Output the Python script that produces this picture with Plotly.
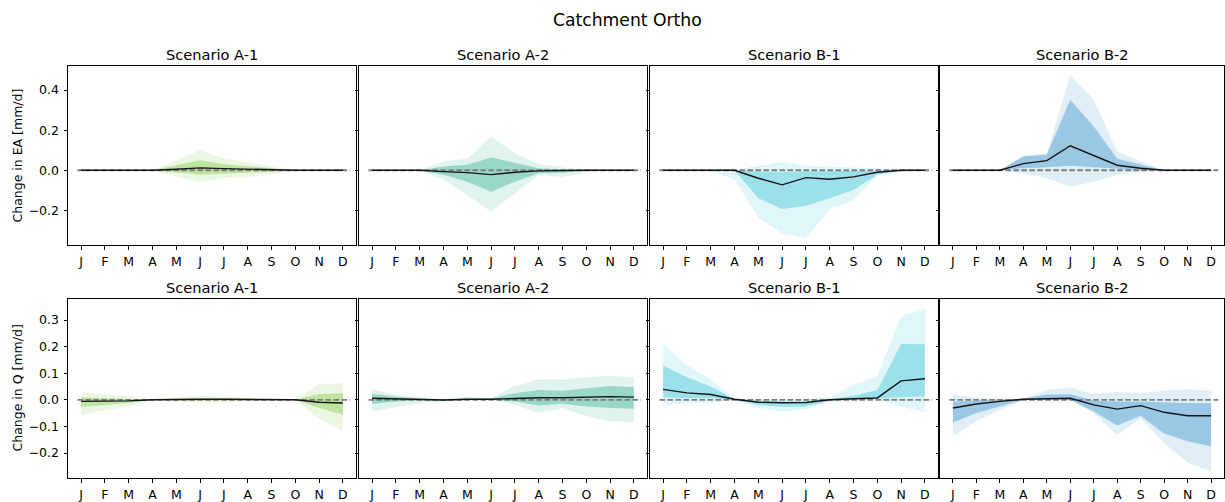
import plotly.graph_objects as go

months = ["J", "F", "M", "A", "M", "J", "J", "A", "S", "O", "N", "D"]
scenarios = ["Scenario A-1", "Scenario A-2", "Scenario B-1", "Scenario B-2"]
base_colors = ["rgba(125,200,65,{a})", "rgba(47,175,144,{a})", "rgba(52,196,212,{a})", "rgba(49,140,200,{a})"]

# ---- Change in EA [mm/d] ----
ea_a1_med = [0, 0, 0, 0, 0.005, 0.012, 0.008, 0.005, 0.003, 0, 0, 0]
ea_a1_in_hi = [0, 0, 0, 0, 0.025, 0.05, 0.03, 0.02, 0.01, 0, 0, 0]
ea_a1_in_lo = [0, 0, 0, 0, -0.01, -0.023, -0.015, -0.012, -0.007, 0, 0, 0]
ea_a1_out_hi = [0, 0, 0, 0, 0.05, 0.10, 0.06, 0.04, 0.02, 0, 0, 0]
ea_a1_out_lo = [0, 0, 0, 0, -0.03, -0.06, -0.04, -0.035, -0.02, 0, 0, 0]

ea_a2_med = [0, 0, 0, -0.007, -0.012, -0.022, -0.01, -0.003, 0, 0, 0, 0]
ea_a2_in_hi = [0, 0, 0, 0.018, 0.027, 0.063, 0.035, 0.01, 0.005, 0, 0, 0]
ea_a2_in_lo = [0, 0, 0, -0.023, -0.057, -0.107, -0.057, -0.015, -0.012, 0, 0, 0]
ea_a2_out_hi = [0, 0, 0, 0.043, 0.057, 0.168, 0.085, 0.03, 0.015, 0, 0, 0]
ea_a2_out_lo = [0, 0, 0, -0.048, -0.123, -0.207, -0.115, -0.023, -0.035, -0.007, 0, 0]

ea_b1_med = [0, 0, 0, 0, -0.04, -0.073, -0.037, -0.045, -0.033, -0.01, 0, 0]
ea_b1_in_hi = [0, 0, 0, 0, -0.005, -0.01, -0.005, -0.005, -0.005, -0.003, 0, 0]
ea_b1_in_lo = [0, 0, 0, 0, -0.14, -0.193, -0.177, -0.14, -0.098, -0.023, 0, 0]
ea_b1_out_hi = [0, 0, 0, 0, 0.022, 0.043, 0.022, 0.018, 0.015, 0.01, 0, 0]
ea_b1_out_lo = [0, 0, 0, -0.048, -0.235, -0.315, -0.34, -0.195, -0.148, -0.028, -0.007, 0]

ea_b2_med = [0, 0, 0, 0.033, 0.048, 0.122, 0.073, 0.025, 0.01, 0, 0, 0]
ea_b2_in_hi = [0, 0, 0, 0.068, 0.077, 0.352, 0.218, 0.057, 0.027, 0, 0, 0]
ea_b2_in_lo = [0, 0, 0, 0.01, 0.015, 0.022, 0.015, 0.007, 0, 0, 0, 0]
ea_b2_out_hi = [0, 0, 0, 0.073, 0.085, 0.473, 0.352, 0.093, 0.043, 0, 0, 0]
ea_b2_out_lo = [0, 0, 0, -0.015, -0.04, -0.082, -0.057, -0.023, -0.007, 0, 0, 0]

# ---- Change in Q [mm/d] ----
q_a1_med = [-0.006, -0.005, -0.004, 0, 0.002, 0.002, 0.002, 0.002, 0.001, 0, -0.009, -0.012]
q_a1_in_hi = [0.01, 0.006, 0.004, 0, 0.004, 0.006, 0.006, 0.004, 0.003, 0, 0.022, 0.025]
q_a1_in_lo = [-0.027, -0.019, -0.012, 0, -0.002, -0.002, -0.002, -0.002, -0.001, 0, -0.031, -0.056]
q_a1_out_hi = [0.029, 0.021, 0.012, 0, 0.01, 0.015, 0.012, 0.01, 0.005, 0, 0.059, 0.062]
q_a1_out_lo = [-0.056, -0.04, -0.025, 0, -0.006, -0.01, -0.008, -0.005, -0.003, 0, -0.069, -0.119]

q_a2_med = [0.006, 0.004, 0.002, -0.001, 0.002, 0.002, 0.005, 0.008, 0.008, 0.01, 0.012, 0.01]
q_a2_in_hi = [0.022, 0.012, 0.005, 0.001, 0.005, 0.005, 0.025, 0.037, 0.034, 0.044, 0.052, 0.047]
q_a2_in_lo = [-0.016, -0.006, -0.002, -0.004, 0, 0, -0.006, -0.021, -0.015, -0.025, -0.031, -0.034]
q_a2_out_hi = [0.04, 0.019, 0.01, 0.004, 0.011, 0.006, 0.052, 0.077, 0.077, 0.085, 0.09, 0.084]
q_a2_out_lo = [-0.044, -0.027, -0.012, -0.006, -0.002, 0, -0.019, -0.05, -0.031, -0.062, -0.081, -0.085]

q_b1_med = [0.039, 0.026, 0.02, 0.002, -0.009, -0.011, -0.01, 0, 0.004, 0.007, 0.071, 0.079]
q_b1_in_hi = [0.129, 0.085, 0.05, 0.002, -0.004, -0.006, -0.004, 0.002, 0.015, 0.037, 0.21, 0.209]
q_b1_in_lo = [0.01, 0.006, 0.006, 0, -0.019, -0.027, -0.025, -0.004, 0.002, 0.005, 0.01, 0.012]
q_b1_out_hi = [0.21, 0.131, 0.077, 0.005, 0, 0, 0.001, 0.01, 0.056, 0.09, 0.315, 0.344]
q_b1_out_lo = [-0.022, -0.012, -0.01, -0.002, -0.031, -0.044, -0.035, -0.006, -0.002, 0, -0.025, -0.047]

q_b2_med = [-0.031, -0.016, -0.006, 0.002, 0.004, 0.006, -0.019, -0.035, -0.022, -0.047, -0.06, -0.06]
q_b2_in_hi = [-0.006, -0.004, 0, 0.005, 0.019, 0.021, -0.004, -0.006, -0.006, -0.009, -0.012, -0.012]
q_b2_in_lo = [-0.085, -0.05, -0.025, 0, 0.002, 0, -0.044, -0.097, -0.06, -0.127, -0.156, -0.175]
q_b2_out_hi = [0.019, 0.009, 0.002, 0.005, 0.037, 0.046, 0.021, 0.029, 0.025, 0.035, 0.04, 0.035]
q_b2_out_lo = [-0.135, -0.081, -0.037, -0.002, 0, -0.002, -0.05, -0.131, -0.069, -0.162, -0.237, -0.269]

ea_data = [
    (ea_a1_med, ea_a1_in_lo, ea_a1_in_hi, ea_a1_out_lo, ea_a1_out_hi),
    (ea_a2_med, ea_a2_in_lo, ea_a2_in_hi, ea_a2_out_lo, ea_a2_out_hi),
    (ea_b1_med, ea_b1_in_lo, ea_b1_in_hi, ea_b1_out_lo, ea_b1_out_hi),
    (ea_b2_med, ea_b2_in_lo, ea_b2_in_hi, ea_b2_out_lo, ea_b2_out_hi),
]
q_data = [
    (q_a1_med, q_a1_in_lo, q_a1_in_hi, q_a1_out_lo, q_a1_out_hi),
    (q_a2_med, q_a2_in_lo, q_a2_in_hi, q_a2_out_lo, q_a2_out_hi),
    (q_b1_med, q_b1_in_lo, q_b1_in_hi, q_b1_out_lo, q_b1_out_hi),
    (q_b2_med, q_b2_in_lo, q_b2_in_hi, q_b2_out_lo, q_b2_out_hi),
]

W, H = 1225, 502
FONT = "DejaVu Sans"
x_idx = list(range(12))

panel_left = [68, 359, 650, 940]
panel_right = [356, 647, 938, 1224]
row_top = [66, 299]
row_bot = [245, 478]
row_ranges = [[-0.373, 0.52], [-0.294, 0.379]]
row_ticks = [[-0.2, 0.0, 0.2, 0.4], [-0.2, -0.1, 0.0, 0.1, 0.2, 0.3]]
row_titles = ["Change in EA [mm/d]", "Change in Q [mm/d]"]

fig = go.Figure()
layout = {}
annotations = []

for r, data in enumerate([ea_data, q_data]):
    for c in range(4):
        n = r * 4 + c + 1
        xa = "x" if n == 1 else f"x{n}"
        ya = "y" if n == 1 else f"y{n}"
        med, in_lo, in_hi, out_lo, out_hi = data[c]
        col = base_colors[c]
        fig.add_trace(go.Scatter(
            x=x_idx + x_idx[::-1], y=list(out_hi) + list(out_lo)[::-1],
            fill="toself", fillcolor=col.format(a=0.15), line=dict(width=0),
            mode="lines", hoverinfo="skip", showlegend=False, xaxis=xa, yaxis=ya))
        fig.add_trace(go.Scatter(
            x=x_idx + x_idx[::-1], y=list(in_hi) + list(in_lo)[::-1],
            fill="toself", fillcolor=col.format(a=0.4), line=dict(width=0),
            mode="lines", hoverinfo="skip", showlegend=False, xaxis=xa, yaxis=ya))
        fig.add_trace(go.Scatter(
            x=[-0.15, 11.3], y=[0, 0], mode="lines",
            line=dict(color="rgb(125,125,125)", width=1.8, dash="5.5px,2.5px"),
            hoverinfo="skip", showlegend=False, xaxis=xa, yaxis=ya))
        fig.add_trace(go.Scatter(
            x=x_idx, y=med, mode="lines", line=dict(color="rgb(20,20,20)", width=1.4),
            showlegend=False, xaxis=xa, yaxis=ya))

        xkey = "xaxis" if n == 1 else f"xaxis{n}"
        ykey = "yaxis" if n == 1 else f"yaxis{n}"
        layout[xkey] = dict(
            domain=[panel_left[c] / W, panel_right[c] / W], anchor=ya,
            range=[-0.55, 11.55], tickmode="array", tickvals=x_idx, ticktext=months,
            ticks="outside", ticklen=3.5, tickwidth=1, tickcolor="black",
            ticklabelstandoff=1, automargin=False,
            showline=True, linecolor="black", linewidth=1, mirror=True,
            showgrid=False, zeroline=False,
            tickfont=dict(family=FONT, size=12.5, color="black"))
        layout[ykey] = dict(
            domain=[1 - row_bot[r] / H, 1 - row_top[r] / H], anchor=xa,
            range=row_ranges[r], tickmode="array", tickvals=row_ticks[r],
            ticktext=[f"{v:.1f}".replace("-", "\u2212") for v in row_ticks[r]],
            showticklabels=(c == 0),
            ticks="outside", ticklen=3.5, tickwidth=1, tickcolor="black",
            ticklabelstandoff=2, automargin=False,
            showline=True, linecolor="black", linewidth=1, mirror=True,
            showgrid=False, zeroline=False,
            tickfont=dict(family=FONT, size=12.5, color="black"))
        annotations.append(dict(
            text=scenarios[c], x=(panel_left[c] + panel_right[c]) / 2 / W,
            y=1 - (row_top[r] - 12) / H, xref="paper", yref="paper",
            xanchor="center", yanchor="middle", showarrow=False,
            font=dict(family=FONT, size=14.6, color="black")))
    annotations.append(dict(
        text=row_titles[r], x=17 / W, y=1 - (row_top[r] + row_bot[r]) / 2 / H,
        xref="paper", yref="paper", xanchor="center", yanchor="middle",
        textangle=-90, showarrow=False, font=dict(family=FONT, size=12.5, color="black")))

annotations.append(dict(
    text="Catchment Ortho", x=627 / W, y=1 - 20 / H, xref="paper", yref="paper",
    xanchor="center", yanchor="middle", showarrow=False,
    font=dict(family=FONT, size=17.2, color="black")))

fig.update_layout(
    width=W, height=H, margin=dict(l=0, r=0, t=0, b=0),
    paper_bgcolor="white", plot_bgcolor="white",
    annotations=annotations, **layout)

fig.write_html("out.html")
